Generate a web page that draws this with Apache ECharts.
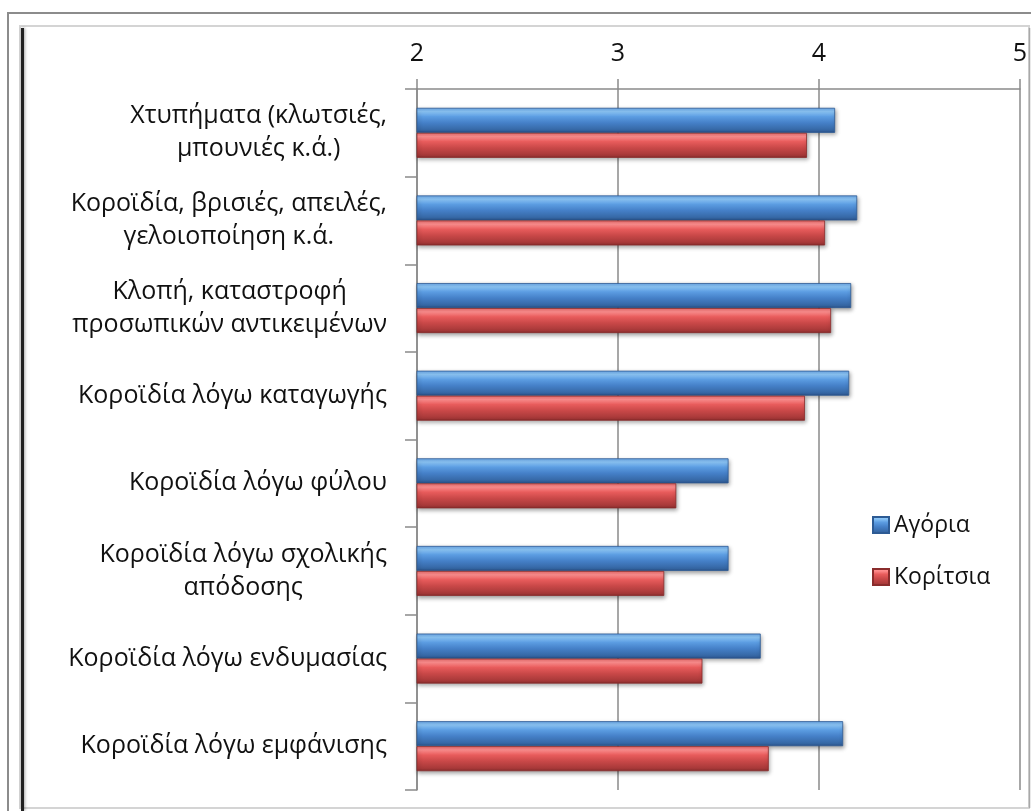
<!DOCTYPE html>
<html>
<head>
<meta charset="utf-8">
<script src="https://cdn.jsdelivr.net/npm/echarts@6/dist/echarts.min.js"></script>
<style>
html,body{margin:0;padding:0;background:#fff;}
#chart{width:1031px;height:811px;}
</style>
</head>
<body>
<div id="chart"></div>
<script>
const categories = [
  "Χτυπήματα (κλωτσιές,\nμπουνιές κ.ά.)",
  "Κοροϊδία, βρισιές, απειλές,\nγελοιοποίηση κ.ά.",
  "Κλοπή, καταστροφή\nπροσωπικών αντικειμένων",
  "Κοροϊδία λόγω καταγωγής",
  "Κοροϊδία λόγω φύλου",
  "Κοροϊδία λόγω σχολικής\nαπόδοσης",
  "Κοροϊδία λόγω ενδυμασίας",
  "Κοροϊδία λόγω εμφάνισης"
];
const seriesNames = ["Αγόρια", "Κορίτσια"];
const boys  = [4.08, 4.19, 4.16, 4.15, 3.55, 3.55, 3.71, 4.12];
const girls = [3.94, 4.03, 4.06, 3.93, 3.29, 3.23, 3.42, 3.75];
const axisMin = 2, axisMax = 5, axisInterval = 1;

const FONT = '"Open Sans", "Noto Sans", sans-serif';

function grad(stops) {
  return {
    type: 'linear', x: 0, y: 0, x2: 0, y2: 1,
    colorStops: stops.map(c => ({ offset: c[0], color: c[1] }))
  };
}
const blueGrad = grad([[0, '#6aa6e8'], [0.15, '#8cc6f7'], [0.35, '#5c9de2'], [0.6, '#4580c8'], [0.9, '#3566a3'], [1, '#2a5088']]);
const redGrad  = grad([[0, '#e86a6a'], [0.15, '#ff8f8f'], [0.35, '#e85c5c'], [0.6, '#c94848'], [0.9, '#a53838'], [1, '#842a2a']]);

const chart = echarts.init(document.getElementById('chart'), null, { renderer: 'canvas' });

const option = {
  backgroundColor: '#ffffff',
  animation: false,
  textStyle: { fontFamily: FONT },
  graphic: [
    { type: 'rect', silent: true, shape: { x: 8, y: 13, width: 1040, height: 830 },
      style: { fill: null, stroke: '#8c8c8c', lineWidth: 2 } },
    { type: 'rect', silent: true, shape: { x: 20, y: 26, width: 1009, height: 782 },
      style: { fill: null, stroke: '#d4d4d4', lineWidth: 2 } },
    { type: 'line', silent: true, shape: { x1: 22.5, y1: 28, x2: 22.5, y2: 811 },
      style: { stroke: '#222', lineWidth: 3, shadowColor: 'rgba(0,0,0,0.35)', shadowBlur: 3, shadowOffsetX: 1 } },
    { type: 'line', silent: true, shape: { x1: 1029.5, y1: 28, x2: 1029.5, y2: 808 },
      style: { stroke: '#a8a8a8', lineWidth: 1.5 } }
  ],
  legend: {
    orient: 'vertical',
    left: 867,
    top: 508,
    itemWidth: 16,
    itemHeight: 16,
    itemGap: 28,
    icon: 'rect',
    data: seriesNames,
    textStyle: { fontFamily: FONT, fontSize: 23, color: '#111', lineHeight: 24 }
  },
  grid: { left: 417, right: 11, top: 89, bottom: 21, containLabel: false },
  xAxis: {
    type: 'value',
    position: 'top',
    min: axisMin, max: axisMax, interval: axisInterval,
    axisLine: { show: true, lineStyle: { color: '#8a8a8a', width: 1.5 } },
    axisTick: { show: true, length: 10, lineStyle: { color: '#8a8a8a', width: 1.5 } },
    splitLine: { show: true, lineStyle: { color: '#8a8a8a', width: 1.5 } },
    axisLabel: { fontFamily: FONT, fontSize: 25, color: '#111', margin: 23 }
  },
  yAxis: {
    type: 'category',
    inverse: true,
    data: categories,
    axisLine: { show: true, lineStyle: { color: '#8a8a8a', width: 1.5 } },
    axisTick: { show: true, length: 12, lineStyle: { color: '#8a8a8a', width: 1.5 } },
    axisLabel: {
      margin: 30,
      fontFamily: FONT, fontSize: 25, color: '#111', lineHeight: 33,
      formatter: v => v.split('\n').map(l => '{c|' + l + '}').join('\n'),
      rich: { c: { align: 'center', fontFamily: FONT, fontSize: 25, color: '#111', lineHeight: 33 } }
    }
  },
  series: [
    {
      name: seriesNames[0], type: 'bar', data: boys, barWidth: 25, barGap: '0%',
      itemStyle: { color: blueGrad, borderColor: '#2d5b94', borderWidth: 0.8,
        shadowColor: 'rgba(0,0,0,0.35)', shadowBlur: 4, shadowOffsetY: 2, shadowOffsetX: 1 }
    },
    {
      name: seriesNames[1], type: 'bar', data: girls, barWidth: 25, barGap: '0%',
      itemStyle: { color: redGrad, borderColor: '#8a2c2c', borderWidth: 0.8,
        shadowColor: 'rgba(0,0,0,0.35)', shadowBlur: 4, shadowOffsetY: 2, shadowOffsetX: 1 }
    }
  ]
};
chart.setOption(option);
</script>
</body>
</html>
